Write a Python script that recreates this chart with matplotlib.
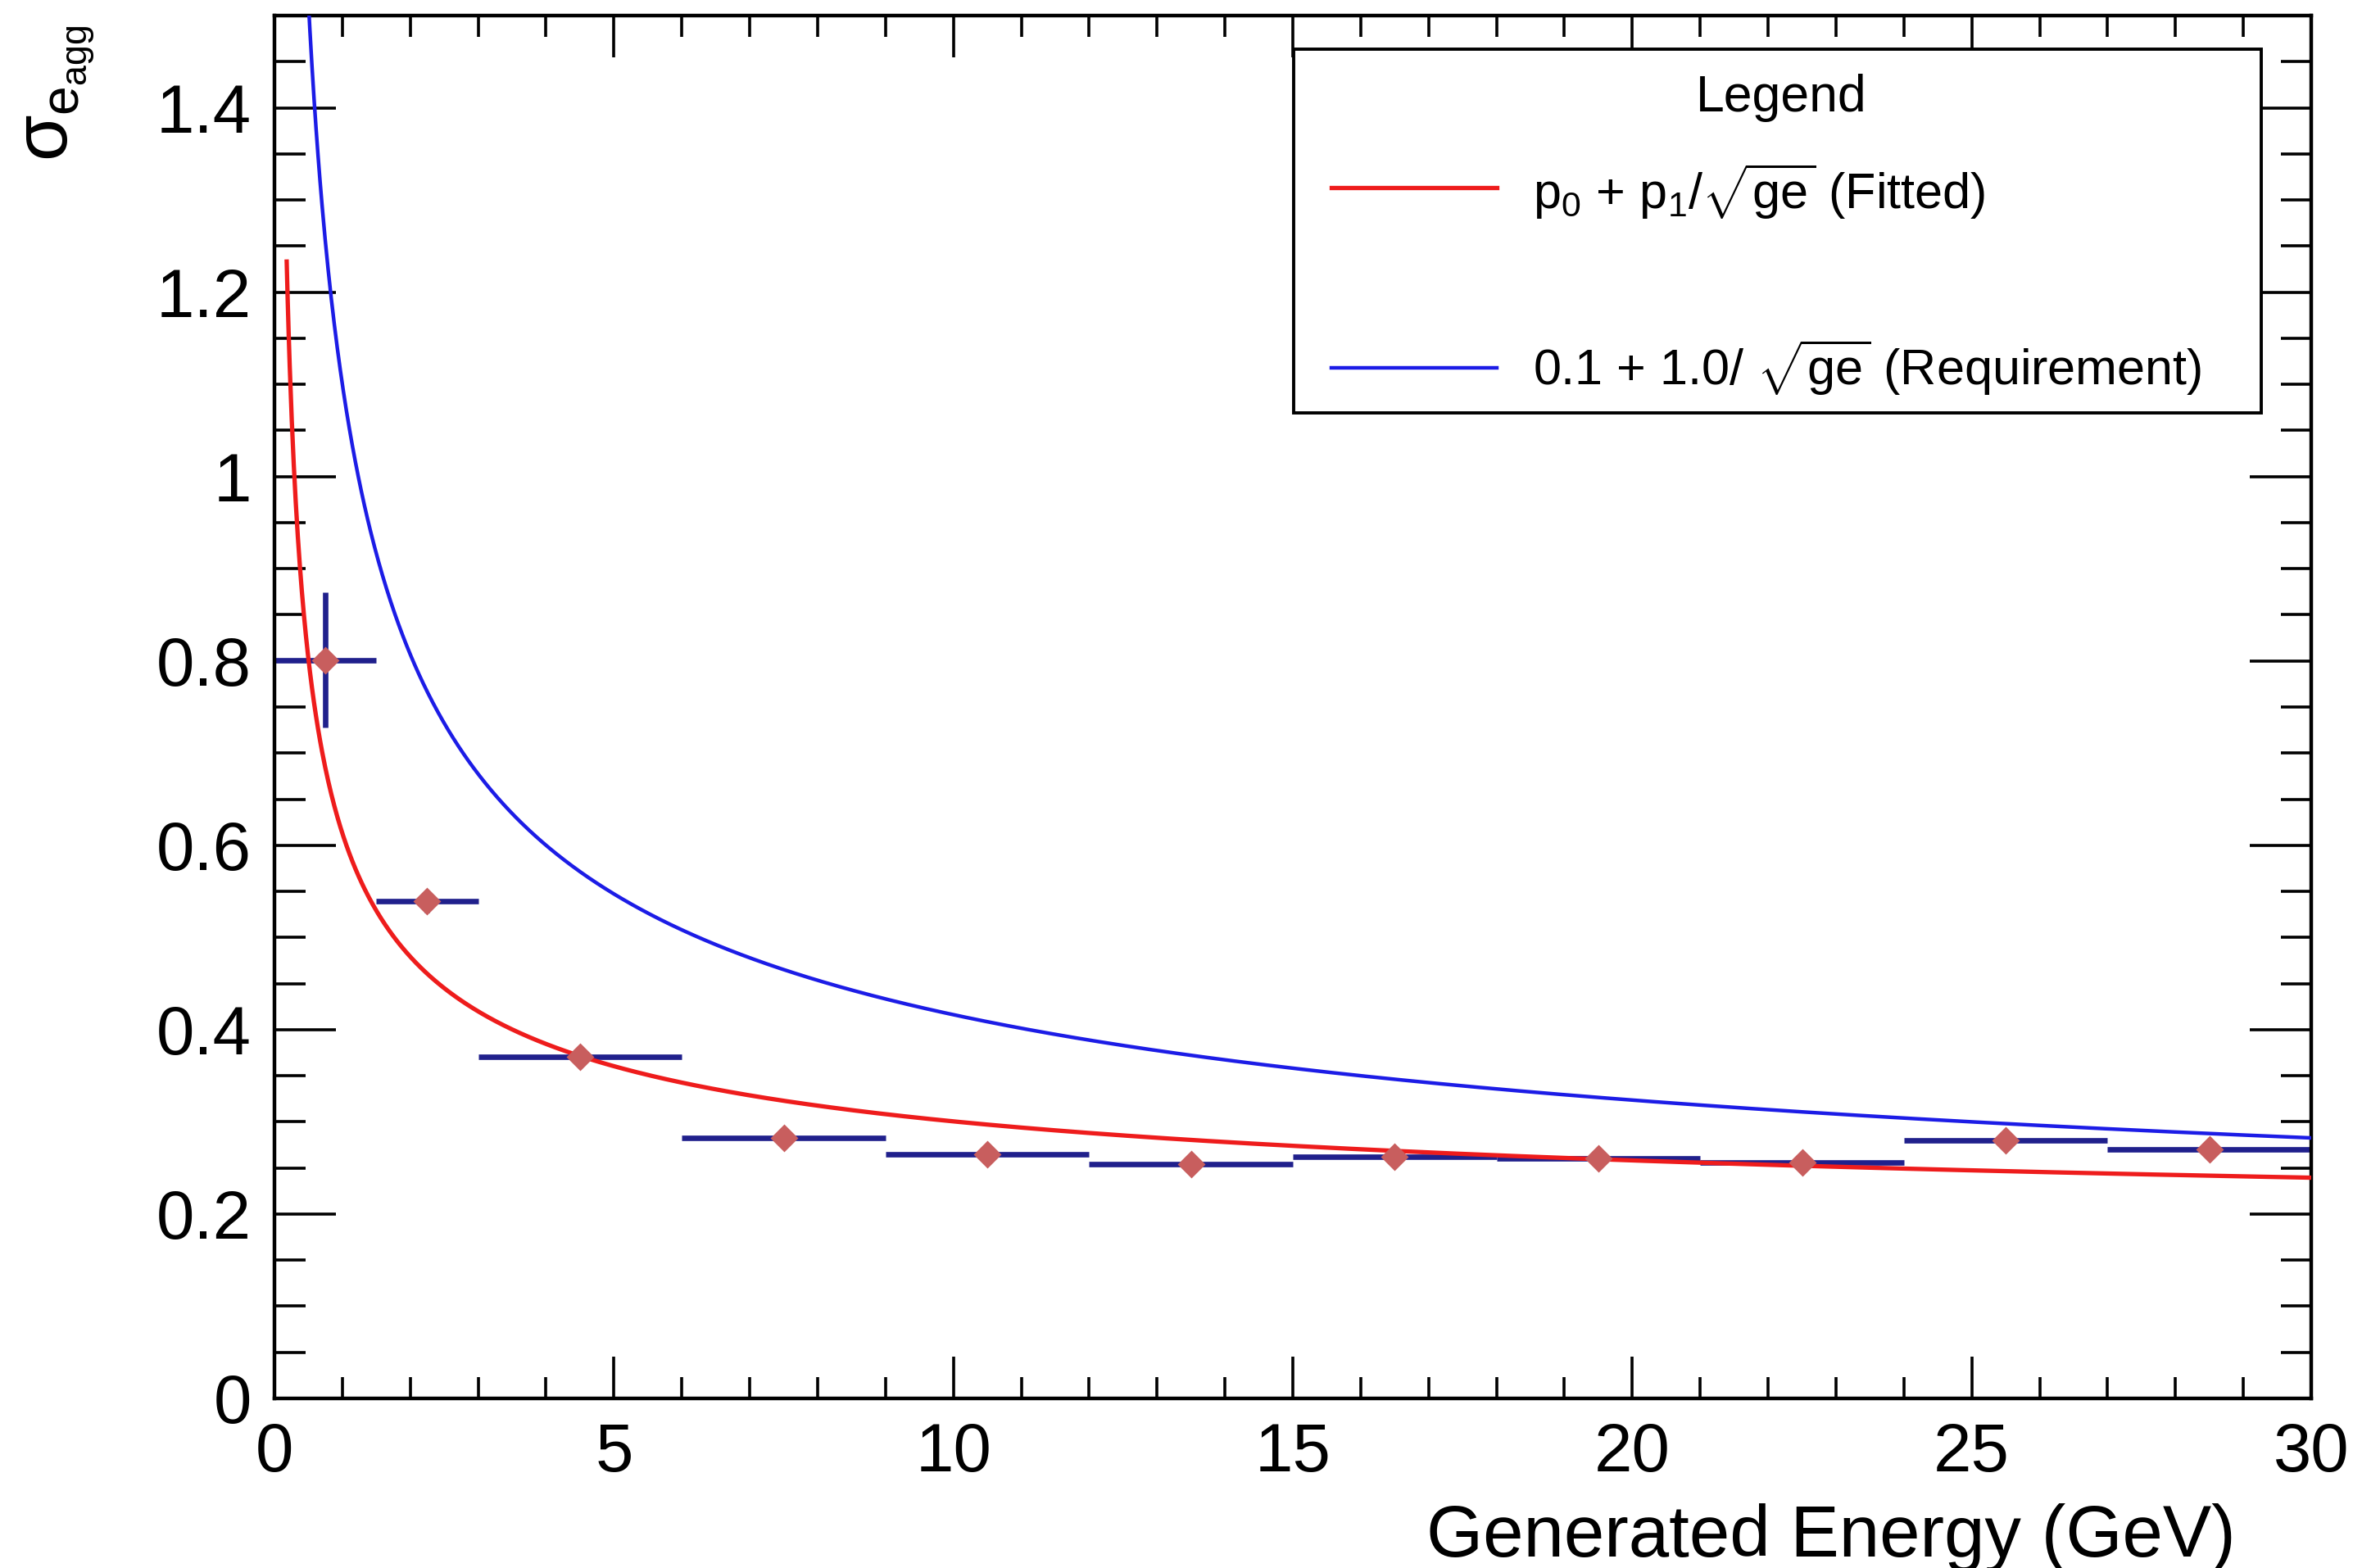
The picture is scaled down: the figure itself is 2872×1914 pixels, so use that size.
import numpy as np
import matplotlib
matplotlib.use("Agg")
import matplotlib.pyplot as plt
from matplotlib.lines import Line2D
from matplotlib.patches import Rectangle
from matplotlib.ticker import MultipleLocator, FuncFormatter

# ---------------- data ----------------
bin_centers = [0.75, 2.25, 4.5, 7.5, 10.5, 13.5, 16.5, 19.5, 22.5, 25.5, 28.5]
bin_half_widths = [0.75, 0.75, 1.5, 1.5, 1.5, 1.5, 1.5, 1.5, 1.5, 1.5, 1.5]
sigma_values = [0.801, 0.539, 0.371, 0.283, 0.265, 0.254, 0.262, 0.260, 0.256, 0.280, 0.270]
sigma_errors = [0.073, 0.012, 0.008, 0.006, 0.005, 0.005, 0.005, 0.005, 0.005, 0.006, 0.006]

fit_p0 = 0.156
fit_p1 = 0.457
req_p0 = 0.1
req_p1 = 1.0
fit_range = [0.18, 30.0]
req_range = [0.3, 30.0]

x_ticks_major = 5
y_ticks_major = 0.2

plt.rcParams['font.family'] = ['Liberation Sans', 'DejaVu Sans']
plt.rcParams['mathtext.fontset'] = 'custom'
plt.rcParams['mathtext.rm'] = 'Liberation Sans'
plt.rcParams['mathtext.it'] = 'Liberation Sans'
plt.rcParams['mathtext.bf'] = 'Liberation Sans:bold'

W, H = 2872, 1914
DPI = 200
fig = plt.figure(figsize=(W / DPI, H / DPI), dpi=DPI)
L, R, B, T = 335, 2821, 1707, 19
ax = fig.add_axes([L / W, 1 - B / H, (R - L) / W, (B - T) / H])

# error bars
ax.errorbar(bin_centers, sigma_values, xerr=bin_half_widths, yerr=sigma_errors,
            fmt='none', ecolor='#20208c', elinewidth=2.4, capsize=0, zorder=2)

# curves
xf = np.linspace(fit_range[0], fit_range[1], 2000)
ax.plot(xf, fit_p0 + fit_p1 / np.sqrt(xf), color='#ee1c1c', lw=1.9, zorder=3)
xr = np.linspace(req_range[0], req_range[1], 2000)
ax.plot(xr, req_p0 + req_p1 / np.sqrt(xr), color='#1c1ce6', lw=1.6, zorder=3)

# markers
ax.plot(bin_centers, sigma_values, linestyle='none', marker='D', ms=7.5,
        color='#c85e5e', mec='#c85e5e', zorder=4)

ax.set_xlim(0, 30)
ax.set_ylim(0, 1.5)

ax.xaxis.set_major_locator(MultipleLocator(x_ticks_major))
ax.xaxis.set_minor_locator(MultipleLocator(1))
ax.yaxis.set_major_locator(MultipleLocator(y_ticks_major))
ax.yaxis.set_minor_locator(MultipleLocator(0.05))
ax.yaxis.set_major_formatter(FuncFormatter(lambda v, p: '%g' % round(v, 3)))
ax.xaxis.set_major_formatter(FuncFormatter(lambda v, p: '%g' % round(v, 3)))

for s in ax.spines.values():
    s.set_linewidth(1.6)

ax.tick_params(axis='both', which='both', direction='in', top=True, right=True,
               width=1.3, labelsize=30, colors='black')
ax.tick_params(axis='x', which='major', length=18.5, pad=10)
ax.tick_params(axis='x', which='minor', length=9.3)
ax.tick_params(axis='y', which='major', length=27, pad=10)
ax.tick_params(axis='y', which='minor', length=13.5)

ax.set_xlabel('Generated Energy (GeV)', fontsize=32, ha='right')
ax.xaxis.set_label_coords(0.963, -0.076)

fig.text(30 / W, 1 - 30 / H, r'$\sigma_{\mathrm{e}_{\mathrm{agg}}}$', rotation=90,
         ha='left', va='top', fontsize=33)

# legend box (manual, ROOT style)
lx0, lx1 = 0.5004, 0.9755
ly0, ly1 = 0.7127, 0.9757
ax.add_patch(Rectangle((lx0, ly0), lx1 - lx0, ly1 - ly0, transform=ax.transAxes,
                       facecolor='white', edgecolor='black', lw=1.4, zorder=10))
ax.text(0.7397, 0.9407, 'Legend', transform=ax.transAxes, ha='center', va='center',
        fontsize=22.5, zorder=11)
ax.add_line(Line2D([0.519, 0.600], [0.8756, 0.8756], transform=ax.transAxes,
                   color='#ee1c1c', lw=1.9, zorder=11))
ax.text(0.618, 0.873, r'$\mathrm{p}_{0}$ + $\mathrm{p}_{1}$/$\sqrt{\mathrm{ge}}$ (Fitted)',
        transform=ax.transAxes, ha='left', va='center', fontsize=22, zorder=11)
ax.add_line(Line2D([0.519, 0.600], [0.7453, 0.7453], transform=ax.transAxes,
                   color='#1c1ce6', lw=1.6, zorder=11))
ax.text(0.618, 0.7453, r'0.1 + 1.0/ $\sqrt{\mathrm{ge}}$ (Requirement)',
        transform=ax.transAxes, ha='left', va='center', fontsize=22, zorder=11)

fig.savefig('out.png', dpi=DPI)
